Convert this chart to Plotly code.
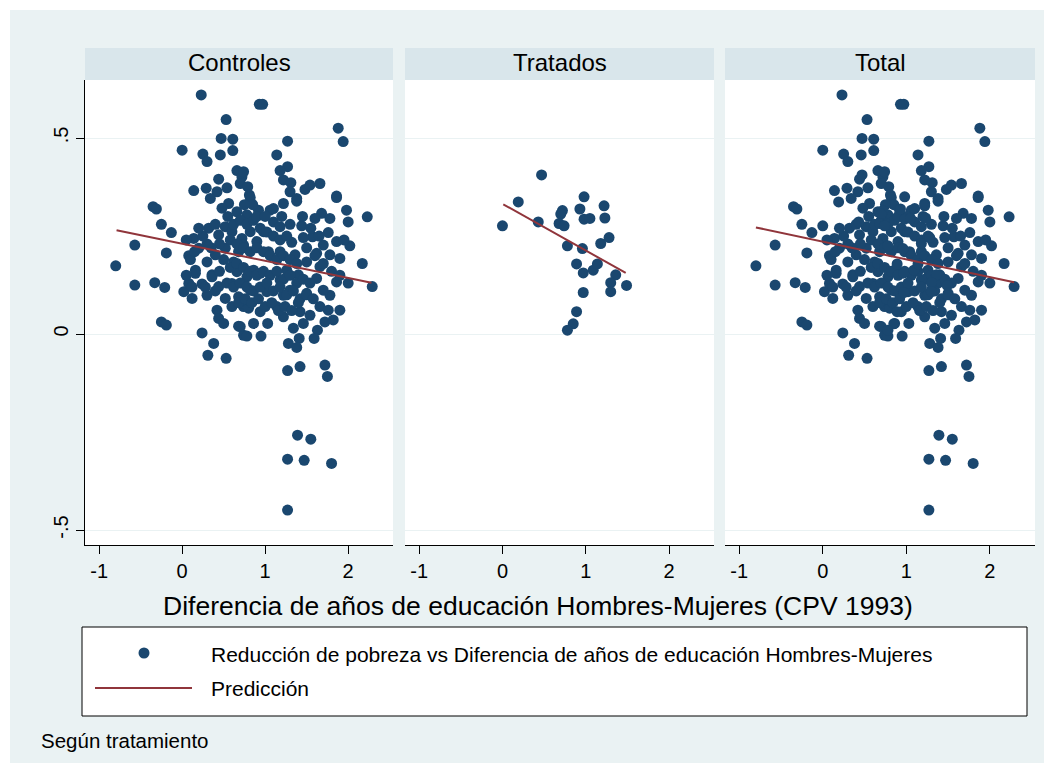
import plotly.graph_objects as go

# ---------------- data ----------------
ctrl_x = [
    0.23, 0.53, 0.47, 0.61, 0.00, 0.25, 0.30, 0.46, 0.61, 0.66, 0.72, 0.44, 0.14, 0.29, 0.54, 0.42, 0.70,
    0.93, 0.97, 1.88, 1.94, 1.27, 1.14, 1.27, 1.18, 0.74, 1.22, 1.31, 1.48, 1.54, 1.66, 1.86, 0.79, 0.81, 1.30, 1.38,
    -0.35, -0.31, -0.25, -0.13, -0.57, -0.19, -0.80, 0.08, 0.14, 0.20, 0.30, 0.34, 0.56, 0.48, 0.66, 0.32, 0.52, 0.60,
    0.44, 0.72, 0.52, 0.68, 0.40, 0.62, 0.16, 0.36, 0.66,
    0.82, 1.86, 1.38, 1.22, 1.98, 2.23, 2.00, 1.68, 1.60, 1.78, 0.92, 1.06, 1.10, 1.18, 1.44, 1.76, 1.57, 1.46, 1.32,
    1.86, 2.02, 1.70, 1.62, 1.78, 1.90, 2.17, 1.36, 1.18, 0.78, 0.82, 0.98, 0.90, 0.74, 1.04, 1.50, 1.66, 1.26, 0.86,
    -0.57, -0.33, -0.21, 0.02, 0.08, 0.16, 0.12, 0.24, 0.36, 0.30, 0.44, 0.52, 0.68, 0.60, 0.42, 0.44, 0.50, 0.68,
    -0.25, -0.19, 0.24, 0.38, 0.31, 0.53, 0.74, 0.74,
    2.29, 0.78, 0.94, 1.18, 1.40, 1.62, 1.86, 1.78, 1.70, 1.50, 1.30, 1.22, 1.02, 0.82, 0.74, 0.94, 0.80, 1.14, 1.22,
    1.42, 1.54, 1.66, 1.76, 1.90, 1.82, 1.72, 0.86, 1.03, 0.70, 0.78, 0.95, 1.34, 1.46, 1.41, 1.63, 1.59, 1.28, 1.38,
    1.27, 1.42, 1.72, 1.75, 1.39, 1.55, 1.27, 1.47, 1.80, 1.27,
    0.55, 0.62, 0.70, 0.78, 0.86, 0.94, 1.02, 1.10, 1.18, 1.26,
    0.58, 0.66, 0.74, 0.82, 0.90, 0.98, 1.06, 1.14, 1.22, 1.30, 1.38,
    0.50, 0.58, 0.66, 0.74, 0.82, 0.90, 0.98, 1.06, 1.14, 1.22, 1.30, 1.38, 1.46, 1.54,
    0.54, 0.62, 0.70, 0.78, 0.86, 0.94, 1.02, 1.10, 1.18, 1.26, 1.34, 1.42, 1.50, 1.58,
    0.60, 0.68, 0.76, 0.84, 0.92, 1.00, 1.08, 1.16, 1.24, 1.32, 1.40,
    0.45, 0.40, 0.35, 0.30, 0.25, 0.20, 0.05, 0.10, 0.15, 0.45, 0.40, 0.28, 0.12, 0.05,
    0.90, 1.00, 1.10, 0.85, 0.75, 1.20, 1.30, 1.45, 1.55, 1.50, 1.60, 1.70, 1.80, 1.90, 2.00, 1.65, 1.95,
]
ctrl_y = [
    0.610, 0.547, 0.499, 0.497, 0.469, 0.459, 0.440, 0.457, 0.468, 0.417, 0.401, 0.395, 0.366, 0.372, 0.373, 0.363, 0.384,
    0.586, 0.586, 0.525, 0.491, 0.492, 0.457, 0.427, 0.417, 0.414, 0.393, 0.386, 0.369, 0.380, 0.384, 0.352, 0.376, 0.355, 0.363, 0.346,
    0.325, 0.319, 0.280, 0.259, 0.227, 0.207, 0.174, 0.200, 0.244, 0.219, 0.184, 0.346, 0.333, 0.321, 0.312, 0.270, 0.274, 0.261,
    0.253, 0.244, 0.219, 0.210, 0.202, 0.184, 0.163, 0.151, 0.159,
    0.348, 0.348, 0.339, 0.333, 0.316, 0.299, 0.286, 0.308, 0.295, 0.295, 0.316, 0.316, 0.286, 0.274, 0.276, 0.259, 0.248, 0.246, 0.234,
    0.236, 0.225, 0.227, 0.206, 0.202, 0.193, 0.180, 0.202, 0.210, 0.304, 0.261, 0.261, 0.236, 0.227, 0.210, 0.184, 0.172, 0.163, 0.163,
    0.125, 0.131, 0.119, 0.108, 0.129, 0.155, 0.091, 0.128, 0.146, 0.099, 0.121, 0.091, 0.095, 0.129, 0.061, 0.040, 0.027, 0.020,
    0.031, 0.023, 0.003, -0.024, -0.054, -0.062, 0.070, -0.003,
    0.121, 0.146, 0.155, 0.138, 0.151, 0.142, 0.133, 0.099, 0.112, 0.104, 0.112, 0.099, 0.108, 0.112, 0.078, 0.057, 0.066, 0.070, 0.044,
    0.057, 0.048, 0.070, 0.061, 0.061, 0.036, 0.031, 0.027, 0.027, 0.019, -0.005, -0.005, 0.015, 0.027, -0.011, 0.010, -0.011, -0.024, -0.034,
    -0.093, -0.083, -0.079, -0.108, -0.258, -0.268, -0.319, -0.322, -0.330, -0.449,
    0.30, 0.28, 0.29, 0.28, 0.29, 0.27, 0.26, 0.25, 0.24, 0.25,
    0.24, 0.23, 0.22, 0.21, 0.22, 0.21, 0.20, 0.19, 0.20, 0.19, 0.18,
    0.19, 0.17, 0.18, 0.17, 0.16, 0.15, 0.16, 0.15, 0.16, 0.14, 0.15, 0.13, 0.14, 0.13,
    0.13, 0.12, 0.13, 0.12, 0.11, 0.12, 0.13, 0.11, 0.12, 0.10, 0.11, 0.09, 0.10, 0.09,
    0.07, 0.08, 0.09, 0.08, 0.09, 0.07, 0.08, 0.06, 0.07, 0.06, 0.08,
    0.23, 0.28, 0.22, 0.23, 0.25, 0.27, 0.24, 0.19, 0.21, 0.16, 0.11, 0.12, 0.12, 0.15,
    0.30, 0.30, 0.32, 0.33, 0.33, 0.30, 0.28, 0.30, 0.27, 0.22, 0.20, 0.18, 0.16, 0.15, 0.13, 0.25, 0.24,
]

trat_x = [0.47, 0.19, 0.00, 0.43, 0.98, 0.72, 0.70, 0.93, 1.22, 1.23, 0.98, 1.05, 0.68, 0.74, 0.78,
          0.96, 1.18, 1.28, 0.89, 0.97, 1.09, 1.14, 1.36, 1.30, 1.30, 1.49, 0.97, 0.89, 0.85, 0.78]
trat_y = [0.406, 0.337, 0.276, 0.286, 0.350, 0.315, 0.306, 0.319, 0.327, 0.296, 0.293, 0.295, 0.282, 0.276, 0.225,
          0.218, 0.231, 0.246, 0.179, 0.156, 0.163, 0.179, 0.151, 0.131, 0.108, 0.124, 0.106, 0.057, 0.026, 0.010]

# Total = Controles + Tratados
total_x = ctrl_x + trat_x
total_y = ctrl_y + trat_y

# fitted-line endpoints (Predicción)
pred_ctrl_x = [-0.79, 2.28]
pred_ctrl_y = [0.265, 0.131]
pred_trat_x = [0.01, 1.48]
pred_trat_y = [0.331, 0.156]
pred_total_x = [-0.80, 2.29]
pred_total_y = [0.272, 0.132]

panel_titles = ["Controles", "Tratados", "Total"]
x_ticks = [-1, 0, 1, 2]
x_ticktext = ["-1", "0", "1", "2"]
y_ticks = [-0.5, 0, 0.5]
y_ticktext = ["-.5", "0", ".5"]

# ---------------- styling ----------------
OFF = 8                      # page body margin
WIN_W, WIN_H = 1054, 773
W, H = WIN_W - 2 * OFF, WIN_H - 2 * OFF
# plot area in screen pixels
L, R, T, B = 85, 1035, 80, 545
NAVY = "#1A476F"
MAROON = "#90353B"
BG = "#EAF2F3"
STRIP = "#D9E6EB"
FONT = "Liberation Sans, Arial, sans-serif"

def fx(p):
    return (p - L) / (R - L)

def fy(p):
    return (B - p) / (B - T)

panel_px = [(85, 393), (405, 714), (725, 1035)]

fig = go.Figure()
series = [(ctrl_x, ctrl_y, pred_ctrl_x, pred_ctrl_y),
          (trat_x, trat_y, pred_trat_x, pred_trat_y),
          (total_x, total_y, pred_total_x, pred_total_y)]

for i, (xs, ys, pxs, pys) in enumerate(series):
    xa = "x" if i == 0 else f"x{i+1}"
    ya = "y" if i == 0 else f"y{i+1}"
    fig.add_trace(go.Scatter(x=xs, y=ys, mode="markers", xaxis=xa, yaxis=ya,
                             marker=dict(size=11, color=NAVY, line=dict(width=0)),
                             showlegend=False, hoverinfo="skip"))
    fig.add_trace(go.Scatter(x=pxs, y=pys, mode="lines", xaxis=xa, yaxis=ya,
                             line=dict(color=MAROON, width=2),
                             showlegend=False, hoverinfo="skip"))

layout = dict(
    width=W, height=H,
    margin=dict(l=L - OFF, r=(OFF + W) - R, t=T - OFF, b=(OFF + H) - B, pad=0),
    paper_bgcolor=BG, plot_bgcolor="white",
    font=dict(family=FONT, color="black"),
    showlegend=False,
)

for i, (p0, p1) in enumerate(panel_px):
    xk = "xaxis" if i == 0 else f"xaxis{i+1}"
    yk = "yaxis" if i == 0 else f"yaxis{i+1}"
    ya = "y" if i == 0 else f"y{i+1}"
    layout[xk] = dict(domain=[fx(p0), fx(p1)], range=[-1.17, 2.54], anchor=ya,
                      tickvals=x_ticks, ticktext=x_ticktext,
                      ticks="outside", ticklen=8, tickcolor="black",
                      tickfont=dict(size=20, family=FONT, color="black"),
                      showline=True, linecolor="black", linewidth=1,
                      showgrid=False, zeroline=False, fixedrange=True)
    ydict = dict(range=[-0.538, 0.648], anchor="x" if i == 0 else f"x{i+1}",
                 tickvals=y_ticks, showgrid=True, gridcolor=BG, gridwidth=1,
                 zeroline=False, fixedrange=True)
    if i == 0:
        ydict.update(ticktext=y_ticktext, ticks="outside", ticklen=8, tickcolor="black",
                     tickangle=-90, tickfont=dict(size=20, family=FONT, color="black"),
                     showline=True, linecolor="black", linewidth=1)
    else:
        ydict.update(matches="y", showticklabels=False, ticks="", showline=False)
    layout[yk] = ydict

fig.update_layout(**layout)

shapes = []
annotations = []
# white outer border (2px inside the figure, plus the page margin)
shapes.append(dict(type="rect", xref="paper", yref="paper",
                   x0=fx(OFF), x1=fx(OFF + W), y0=fy(OFF + H), y1=fy(OFF),
                   line=dict(color="white", width=4), fillcolor="rgba(0,0,0,0)", layer="above"))
# strips and titles
for (p0, p1), title in zip(panel_px, panel_titles):
    shapes.append(dict(type="rect", xref="paper", yref="paper",
                       x0=fx(p0), x1=fx(p1), y0=fy(80), y1=fy(48),
                       line=dict(width=0), fillcolor=STRIP, layer="below"))
    annotations.append(dict(text=title, xref="paper", yref="paper",
                            x=fx((p0 + p1) / 2), y=fy(63), xanchor="center", yanchor="middle",
                            showarrow=False, font=dict(size=24, family=FONT, color="black")))
# x axis title
annotations.append(dict(text="Diferencia de años de educación Hombres-Mujeres (CPV 1993)",
                        xref="paper", yref="paper", x=fx(538), y=fy(606),
                        xanchor="center", yanchor="middle", showarrow=False,
                        font=dict(size=26.5, family=FONT, color="black")))
# legend box
shapes.append(dict(type="rect", xref="paper", yref="paper",
                   x0=fx(82), x1=fx(1027), y0=fy(716), y1=fy(627),
                   line=dict(color="black", width=1), fillcolor="white", layer="below"))
shapes.append(dict(type="circle", xref="paper", yref="paper",
                   x0=fx(138.5), x1=fx(149.5), y0=fy(658.5), y1=fy(647.5),
                   line=dict(width=0), fillcolor=NAVY, layer="above"))
shapes.append(dict(type="line", xref="paper", yref="paper",
                   x0=fx(95), x1=fx(192), y0=fy(688), y1=fy(688),
                   line=dict(color=MAROON, width=2), layer="above"))
annotations.append(dict(text="Reducción de pobreza vs Diferencia de años de educación Hombres-Mujeres",
                        xref="paper", yref="paper", x=fx(209), y=fy(654),
                        xanchor="left", yanchor="middle", showarrow=False,
                        font=dict(size=21, family=FONT, color="black")))
annotations.append(dict(text="Predicción",
                        xref="paper", yref="paper", x=fx(209), y=fy(688),
                        xanchor="left", yanchor="middle", showarrow=False,
                        font=dict(size=21, family=FONT, color="black")))
annotations.append(dict(text="Según tratamiento",
                        xref="paper", yref="paper", x=fx(39), y=fy(740),
                        xanchor="left", yanchor="middle", showarrow=False,
                        font=dict(size=20.5, family=FONT, color="black")))

fig.update_layout(shapes=shapes, annotations=annotations)
fig.write_html("out.html")
